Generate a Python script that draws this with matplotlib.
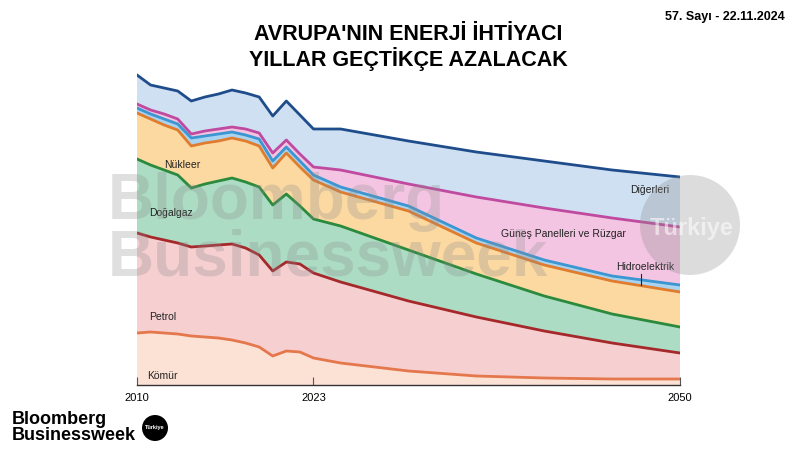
import numpy as np
import matplotlib
matplotlib.use("Agg")
import matplotlib.pyplot as plt
from matplotlib.patches import Ellipse

plt.rcParams['font.family'] = ['Liberation Sans', 'DejaVu Sans']

# years on the chart (annual history, then 5-year outlook)
years = [2010, 2011, 2012, 2013, 2014, 2015, 2016, 2017, 2018, 2019, 2020,
         2021, 2022, 2023, 2025, 2030, 2035, 2040, 2045, 2050]

# layer values (bottom to top)
komur = [52, 53, 52, 51, 49, 48, 47, 45, 42, 38, 29, 34, 33, 27, 22, 14, 9, 7, 6, 6]
petrol = [100, 95, 93, 91, 89, 91, 93, 96, 95, 92, 85, 89, 88, 85, 81, 70, 59, 47, 36, 26]
dogalgaz = [74, 72, 70, 68, 59, 62, 64, 66, 66, 68, 66, 68, 58, 54, 56, 51, 43, 35, 29, 26]
nukleer = [46, 46, 45, 45, 42, 41, 40, 40, 41, 41, 37, 41, 39, 39, 34, 39, 31, 31, 33, 35]
hidro = [5, 5, 6, 6, 8, 7, 7, 6, 6, 7, 7, 6, 6, 5, 5, 5, 5, 5, 5, 7]
gunes_ruzgar = [4, 4, 5, 5, 4, 5, 5, 5, 6, 6, 8, 7, 7, 8, 17, 22, 41, 52, 58, 58]
digerleri = [29, 25, 26, 28, 33, 34, 35, 37, 36, 36, 37, 39, 39, 38, 41, 43, 45, 47, 48, 50]

layers = [komur, petrol, dogalgaz, nukleer, hidro, gunes_ruzgar, digerleri]
fill_colors = ['#fbe2d5', '#f6cfd0', '#acdcc4', '#fdd9a2', '#a9d3ee', '#f4c5e2', '#cfe0f2']
line_colors = ['#e5774c', '#a5282a', '#2b8a3c', '#e07c2e', '#3b96d2', '#bf4a9f', '#1f4d8b']

xtick_years = [2010, 2023, 2050]

W, H = 800, 450


def fx(px):
    return px / W


def fy(py):
    return 1 - py / H


def fig_circle(fig, cx, cy, r, **kw):
    # circle in pixel units, drawn in figure coords
    e = Ellipse((fx(cx), fy(cy)), 2 * r / W, 2 * r / H, transform=fig.transFigure, **kw)
    fig.patches.append(e)


fig = plt.figure(figsize=(8, 4.5), dpi=100)
ax = fig.add_axes([fx(137), 65 / H, 543 / W, 325 / H])

ax.stackplot(years, *layers, colors=fill_colors, linewidth=0, zorder=1)
tops = np.cumsum(np.array(layers), axis=0)
for top, c in zip(tops, line_colors):
    ax.plot(years, top, color=c, lw=2.0, solid_joinstyle='round', zorder=2)

ax.set_xlim(2010, 2050)
ax.set_ylim(0, 325)
ax.set_yticks([])
for side in ['left', 'right', 'top']:
    ax.spines[side].set_visible(False)
ax.spines['bottom'].set_color('#333333')
ax.spines['bottom'].set_linewidth(1.0)
ax.set_xticks(xtick_years)
ax.set_xticklabels([str(y) for y in xtick_years], fontsize=8)
ax.tick_params(axis='x', direction='in', length=6, width=0.8, color='#555555', pad=6)
ax.patch.set_alpha(0)

# series labels
lab = dict(fontsize=7.5, color='#222222', zorder=5)
ax.text(2013.3, 385 - 165, 'Nükleer', ha='center', va='center', **lab)
ax.text(2012.5, 385 - 213, 'Doğalgaz', ha='center', va='center', **lab)
ax.text(2011.9, 385 - 317, 'Petrol', ha='center', va='center', **lab)
ax.text(2011.9, 385 - 376, 'Kömür', ha='center', va='center', **lab)
ax.text(2049.2, 385 - 190, 'Diğerleri', ha='right', va='center', **lab)
ax.text(2046.0, 385 - 234, 'Güneş Panelleri ve Rüzgar', ha='right', va='center', **lab)
ax.text(2049.6, 385 - 267, 'Hidroelektrik', ha='right', va='center', **lab)
ax.plot([2047.1, 2047.1], [385 - 274, 385 - 285], color='#222222', lw=0.8, zorder=5)

# watermark
wm = dict(fontsize=46, fontweight='bold', color='#8c8c8c', alpha=0.28,
          va='center', ha='left', zorder=10)
fig.text(fx(108), fy(202), 'Bloomberg', **wm)
fig.text(fx(108), fy(258), 'Businessweek', **wm)
fig_circle(fig, 690, 225, 50, facecolor='#8c8c8c', alpha=0.3, edgecolor='none', zorder=10)
fig.text(fx(692), fy(228), 'Türkiye', fontsize=17, fontweight='bold',
         color='white', alpha=0.55, ha='center', va='center', zorder=11)

# title and issue
fig.text(fx(408), fy(35), "AVRUPA'NIN ENERJİ İHTİYACI", fontsize=15.5,
         fontweight='bold', ha='center', va='center')
fig.text(fx(408), fy(59), 'YILLAR GEÇTİKÇE AZALACAK', fontsize=15.5,
         fontweight='bold', ha='center', va='center')
fig.text(fx(785), fy(17), '57. Sayı - 22.11.2024', fontsize=9,
         fontweight='bold', ha='right', va='center')

# bottom-left logo
fig.text(fx(12), fy(419), 'Bloomberg', fontsize=13, fontweight='bold',
         ha='left', va='center')
fig.text(fx(12), fy(436), 'Businessweek', fontsize=13, fontweight='bold',
         ha='left', va='center')
fig_circle(fig, 155, 428, 13, facecolor='black', edgecolor='none')
fig.text(fx(155), fy(428), 'Türkiye', fontsize=4, fontweight='bold',
         color='white', ha='center', va='center')

fig.savefig('out.png', dpi=100)
